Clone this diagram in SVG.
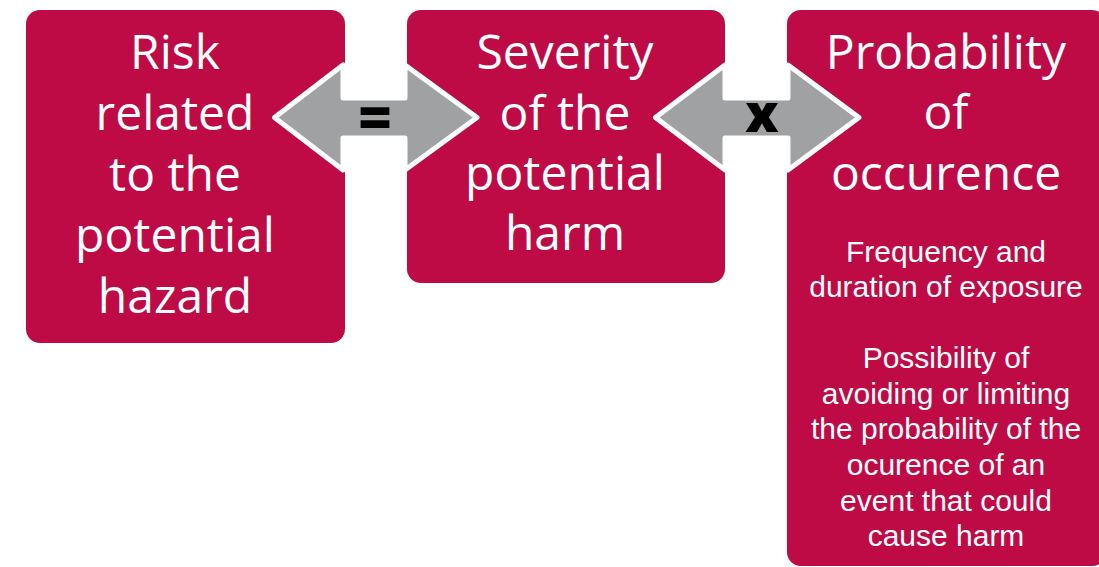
<svg xmlns="http://www.w3.org/2000/svg" width="1099" height="567" viewBox="0 0 1099 567">
<style>
.box{fill:#BE0B46}
.big{font-family:"Open Sans","Liberation Sans",sans-serif;font-size:48px;font-weight:500;fill:#fff;text-anchor:middle}
.small{font-family:"Liberation Sans",Arial,sans-serif;font-size:30px;fill:#fff;text-anchor:middle}
.arrow{fill:#9FA1A3;stroke:#fff;stroke-width:5;stroke-linejoin:round}
.op{font-family:"Open Sans","Liberation Sans",sans-serif;font-weight:800;fill:#000;text-anchor:middle}
</style>
<rect width="1099" height="567" fill="#fff"/>
<g id="node-risk">
<rect class="box" x="26" y="10" width="319" height="333" rx="14"/>
<text class="big"><tspan x="175" y="69">Risk</tspan><tspan x="175" y="130">related</tspan><tspan x="175" y="191">to the</tspan><tspan x="175" y="252">potential</tspan><tspan x="175" y="313">hazard</tspan></text>
</g>
<g id="node-severity">
<rect class="box" x="407" y="10" width="318" height="273" rx="14"/>
<text class="big"><tspan x="565" y="69">Severity</tspan><tspan x="565" y="130">of the</tspan><tspan x="565" y="190">potential</tspan><tspan x="565" y="250">harm</tspan></text>
</g>
<g id="node-probability">
<rect class="box" x="787" y="10" width="319" height="556" rx="14"/>
<text class="big"><tspan x="946" y="69">Probability</tspan><tspan x="946" y="129">of</tspan><tspan x="946" y="190">occurence</tspan></text>
<text class="small"><tspan x="946" y="262">Frequency and</tspan><tspan x="946" y="297">duration of exposure</tspan><tspan x="946" y="368">Possibility of</tspan><tspan x="946" y="404">avoiding or limiting</tspan><tspan x="946" y="439">the probability of the</tspan><tspan x="946" y="475">ocurence of an</tspan><tspan x="946" y="511">event that could</tspan><tspan x="946" y="546">cause harm</tspan></text>
</g>
<g id="connectors">
<g id="arrow-equals">
<polygon class="arrow" points="274.5,117.5 343,65 343,98 405,98 405,65 477,117.5 405,170 405,138 343,138 343,170"/>
<text class="op" x="375" y="138" font-size="58">=</text>
</g>
<g id="arrow-times">
<polygon class="arrow" points="655.5,117.5 725,65 725,98 788,98 788,65 859,117.5 788,170 788,138 725,138 725,170"/>
<text class="op" x="762" y="132" font-size="53">x</text>
</g>
</g>
</svg>
